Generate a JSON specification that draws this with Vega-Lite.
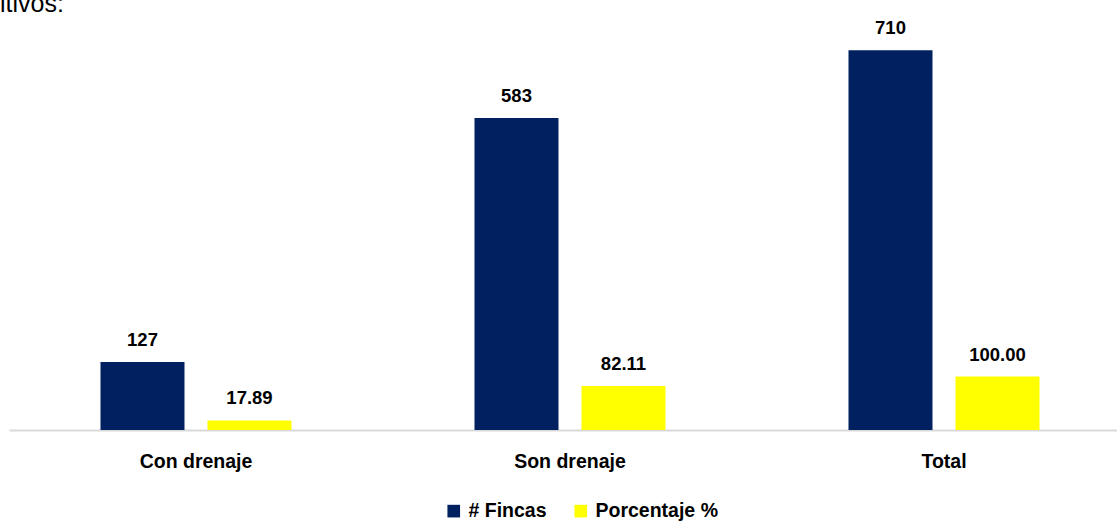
{
  "$schema": "https://vega.github.io/schema/vega-lite/v6.json",
  "width": 1122,
  "height": 428,
  "autosize": "none",
  "padding": {"left": 9, "top": 2, "right": 0, "bottom": 93},
  "background": "white",
  "title": {"text": "itivos:", "anchor": "start", "frame": "group", "orient": "top", "offset": -35, "dx": -9, "baseline": "alphabetic", "font": "Liberation Sans", "fontSize": 25, "fontWeight": "normal", "color": "#000000"},
  "data": {"values": [
    {"categoria": "Con drenaje", "serie": "# Fincas", "valor": 127, "etiqueta": "127"},
    {"categoria": "Con drenaje", "serie": "Porcentaje %", "valor": 17.89, "etiqueta": "17.89"},
    {"categoria": "Son drenaje", "serie": "# Fincas", "valor": 583, "etiqueta": "583"},
    {"categoria": "Son drenaje", "serie": "Porcentaje %", "valor": 82.11, "etiqueta": "82.11"},
    {"categoria": "Total", "serie": "# Fincas", "valor": 710, "etiqueta": "710"},
    {"categoria": "Total", "serie": "Porcentaje %", "valor": 100, "etiqueta": "100.00"}
  ]},
  "encoding": {
    "x": {"field": "categoria", "type": "nominal", "sort": null,
      "scale": {"paddingInner": 0, "paddingOuter": 0},
      "axis": {"title": null, "labelAngle": 0, "labelFont": "Liberation Sans", "labelFontSize": 19.5, "labelFontWeight": "bold", "labelColor": "#000000", "labelBaseline": "alphabetic", "labelPadding": 37, "ticks": false, "domainColor": "#d9d9d9", "domainWidth": 2, "grid": false}},
    "xOffset": {"field": "serie", "type": "nominal", "scale": {"paddingInner": 0.215, "paddingOuter": 0.855}},
    "y": {"field": "valor", "type": "quantitative", "scale": {"domain": [0, 800]}, "axis": null}
  },
  "layer": [
    {"mark": {"type": "bar"},
     "encoding": {
       "color": {"field": "serie", "type": "nominal",
         "scale": {"domain": ["# Fincas", "Porcentaje %"], "range": ["#002060", "#FFFF00"]},
         "legend": {"title": null, "orient": "none", "legendX": 435, "legendY": 499, "padding": 0, "direction": "horizontal", "symbolType": "square", "symbolSize": 160, "symbolStrokeWidth": 0, "labelFont": "Liberation Sans", "labelFontSize": 19.5, "labelFontWeight": "bold", "labelColor": "#000000", "columnPadding": 24, "labelOffset": 5}}
     }},
    {"mark": {"type": "text", "baseline": "alphabetic", "dy": -16, "font": "Liberation Sans", "fontSize": 18.5, "fontWeight": "bold", "color": "#000000"},
     "encoding": {"text": {"field": "etiqueta", "type": "nominal"}}}
  ],
  "config": {"view": {"stroke": null}}
}
